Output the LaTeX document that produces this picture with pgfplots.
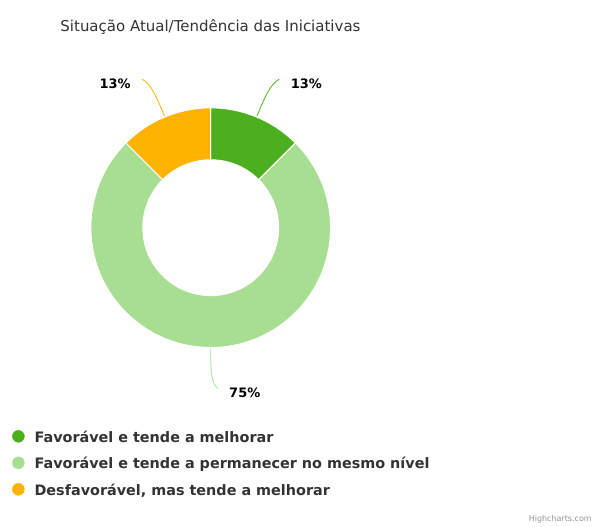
\documentclass[border=0pt]{standalone}
\usepackage{pgfplots}
\pgfplotsset{compat=1.18}
\usepackage{pgfplotstable}
\usepackage{fontspec}
\setmainfont{DejaVu Sans}
\usetikzlibrary{calc}

\definecolor{cA}{RGB}{76,176,30}
\definecolor{cB}{RGB}{168,222,146}
\definecolor{cC}{RGB}{255,178,0}
\definecolor{txt}{RGB}{51,51,51}

% share of each initiative (percent)
\pgfplotstableread{
share color
12.5  cA
75    cB
12.5  cC
}\slices

\begin{document}
\begin{tikzpicture}
\begin{axis}[
    x=1pt, y=1pt,
    xmin=0, xmax=595, ymin=0, ymax=526,
    hide axis, clip=false,
    legend cell align=left,
    legend style={at={(axis cs:9,99)}, anchor=north west,
        draw=none, fill=none, text=txt,
        font=\fontsize{14.4}{16}\selectfont\bfseries,
        row sep=9.5pt,
        /tikz/every odd column/.append style={column sep=8pt}},
]
\addlegendimage{legend image code/.code={\fill[cA] (6pt,0.8pt) circle (6pt);}}
\addlegendentry{Favorável e tende a melhorar}
\addlegendimage{legend image code/.code={\fill[cB] (6pt,0.8pt) circle (6pt);}}
\addlegendentry{Favorável e tende a permanecer no mesmo nível}
\addlegendimage{legend image code/.code={\fill[cC] (6pt,0.8pt) circle (6pt);}}
\addlegendentry{Desfavorável, mas tende a melhorar}

\pgfplotsextra{%
  \coordinate (c) at (axis cs:211,298);
  \gdef\angA{90}%
  \pgfplotstableforeachcolumnelement{share}\of\slices\as\v{%
    \pgfplotstablegetelem{\pgfplotstablerow}{color}\of\slices
    \edef\col{\pgfplotsretval}%
    \pgfmathsetmacro{\angB}{\angA-3.6*\v}%
    \pgfmathsetmacro{\angM}{(\angA+\angB)/2}%
    \pgfmathsetmacro{\s}{cos(\angM)<-0.01 ? -1 : 1}%
    \pgfmathtruncatemacro{\pct}{round(\v)}%
    \ifdim\s pt>0pt \def\anc{west}\else\def\anc{east}\fi
    \fill[\col, draw=white, line width=1pt]
      ($(c)+(\angA:120pt)$) arc[start angle=\angA, end angle=\angB, radius=120pt]
      -- ($(c)+(\angB:68pt)$) arc[start angle=\angB, end angle=\angA, radius=68pt] -- cycle;
    \draw[\col, line width=0.8pt] ($(c)+(\angM:121pt)$)
      .. controls ($(c)+(\angM:142pt)$) and ($(c)+(\angM:155pt)$)
      .. ($(c)+(\angM:161pt)+(\s*7pt,0)$) coordinate (e);
    \node[anchor=\anc, text=black, font=\fontsize{13}{15}\selectfont\bfseries]
      at ($(e)+(\s*8pt,-4.5pt)$) {\pct\%};
    \global\let\angA\angB
  }%
}

\node[anchor=west, text=txt, font=\fontsize{15}{17}\selectfont] at (axis cs:57,499)
  {Situação Atual/Tendência das Iniciativas};
\node[anchor=east, text=gray!85, font=\fontsize{8}{9}\selectfont] at (axis cs:596,6)
  {Highcharts.com};
\path (axis cs:0,0) rectangle (axis cs:595,526);
\end{axis}
\end{tikzpicture}
\end{document}
